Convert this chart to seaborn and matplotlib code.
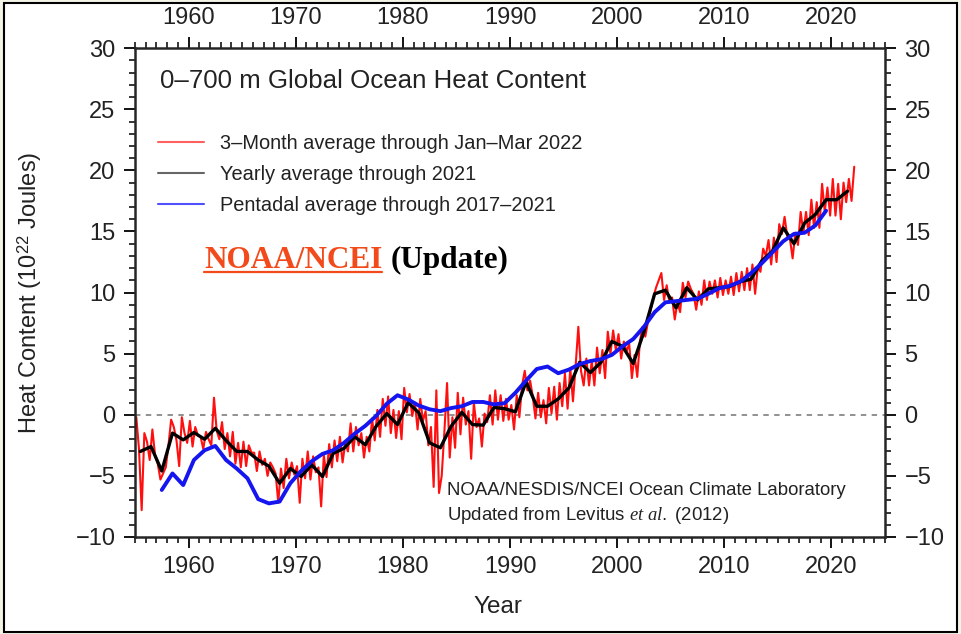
import numpy as np
import pandas as pd
import matplotlib
matplotlib.use('Agg')
import matplotlib.pyplot as plt
import seaborn as sns
from matplotlib.ticker import MultipleLocator
from matplotlib.patches import Rectangle
from matplotlib.lines import Line2D

# Valores (10^22 J)
anos = list(range(1955, 2022))
media_anual = [
    -3.0, -2.6, -4.6, -1.5, -2.05, -1.45, -2.0, -1.1, -2.1, -3.0,
    -3.0, -3.7, -4.2, -5.6, -4.4, -5.05, -4.1, -5.05, -3.15, -2.75,
    -1.8, -2.45, -0.95, 0.1, -0.8, 1.0, 0.15, -2.3, -2.7, -0.95,
    0.2, -0.8, -0.85, 0.6, 0.5, 0.25, 2.7, 0.7, 0.7, 1.3,
    2.2, 4.3, 3.45, 4.3, 6.0, 5.6, 4.2, 6.8, 9.9, 10.2,
    8.75, 10.4, 9.4, 10.3, 10.4, 10.5, 10.9, 11.1, 12.6, 13.4,
    15.3, 14.0, 15.7, 16.4, 17.6, 17.6, 18.3,
]

anos_pent = list(range(1957, 2020))
media_pentadal = [
    -6.15, -4.8, -5.75, -3.7, -2.9, -2.55, -3.7, -4.4, -5.2, -6.9,
    -7.25, -7.1, -5.6, -4.6, -3.8, -3.2, -2.9, -2.3, -1.55, -0.9,
    -0.1, 0.9, 1.6, 1.25, 0.75, 0.45, 0.3, 0.55, 0.7, 1.05,
    1.05, 0.85, 0.95, 1.8, 2.8, 3.75, 3.95, 3.4, 3.7, 4.15,
    4.4, 4.55, 4.9, 5.6, 6.2, 7.2, 8.4, 9.2, 9.3, 9.4,
    9.5, 9.9, 10.35, 10.55, 10.9, 11.6, 12.4, 13.3, 14.2, 14.8,
    14.9, 15.5, 16.7,
]

# médias trimestrais, jan-mar 1955 até jan-mar 2022
media_3m = [
    -0.2, -2.8, -7.8, -1.5,
    -2.2, -3.7, -1.2, -3.3,
    -4.0, -5.3, -4.8, -4.3,
    -2.5, -0.4, -1.0, -2.1,
    -4.2, -0.2, -1.5, -2.3,
    -0.5, -2.6, -1.0, -1.7,
    -1.8, -2.8, -1.4, -2.0,
    -2.5, 1.4, -1.3, -2.0,
    -0.6, -2.8, -1.5, -3.4,
    -1.4, -4.0, -2.3, -4.3,
    -2.2, -4.2, -2.5, -3.1,
    -3.1, -4.6, -3.0, -4.1,
    -3.6, -5.0, -3.9, -4.3,
    -4.8, -7.2, -4.4, -6.0,
    -3.6, -5.2, -3.9, -4.9,
    -4.2, -7.2, -3.6, -5.2,
    -3.0, -5.3, -3.4, -4.7,
    -4.3, -7.5, -3.3, -5.1,
    -2.4, -4.3, -2.1, -3.8,
    -1.8, -3.9, -2.3, -3.0,
    -0.7, -3.0, -1.0, -2.5,
    -1.5, -3.5, -1.8, -3.0,
    -0.3, -2.1, 0.4, -1.8,
    1.3, -0.9, 1.5, -1.5,
    0.4, -1.9, 0.3, -2.0,
    2.2, 0.2, 1.7, -0.1,
    1.0, -1.2, 1.3, -0.5,
    0.3, -2.5, -1.0, -5.9,
    2.0, -6.4, -5.0, -1.4,
    2.6, -3.5, -0.2, -2.7,
    1.8, -1.6, 1.4, -0.8,
    0.3, -3.6, 1.0, -1.0,
    -0.3, -2.6, 0.1, -0.6,
    1.6, -0.8, 2.0, -0.4,
    1.6, -0.5, 1.3, -0.4,
    0.8, -1.2, 1.6, -0.2,
    2.4, 3.6, 2.0, 2.8,
    1.5, -0.3, 1.8, -0.2,
    1.2, -0.7, 2.2, 0.1,
    2.3, -0.4, 2.6, 0.7,
    3.4, 0.5, 3.8, 1.1,
    4.0, 7.2, 3.6, 2.4,
    4.6, 2.4, 4.4, 2.4,
    5.5, 3.4, 5.3, 3.0,
    6.8, 5.0, 6.9, 5.3,
    6.6, 4.6, 6.0, 5.2,
    5.8, 3.0, 4.9, 3.1,
    6.0, 7.2, 6.4, 7.6,
    8.6, 9.6, 10.4, 11.0,
    11.6, 9.4, 10.6, 9.2,
    9.6, 7.8, 9.2, 8.4,
    10.8, 9.6, 10.9, 10.3,
    9.9, 8.6, 10.1, 9.0,
    11.0, 9.4, 10.9, 9.9,
    11.0, 9.6, 11.2, 9.8,
    11.0, 9.9, 11.3, 9.8,
    11.6, 10.1, 11.7, 10.2,
    12.0, 10.2, 12.3, 9.9,
    12.1, 11.7, 13.6, 13.0,
    14.3, 12.3, 14.5, 12.5,
    15.6, 14.8, 16.2, 14.6,
    14.4, 12.8, 14.9, 13.9,
    16.6, 14.9, 16.6, 14.7,
    17.6, 15.3, 17.4, 15.3,
    18.9, 16.6, 18.6, 16.3,
    19.3, 16.3, 18.9, 16.0,
    19.0, 17.4, 19.3, 17.5,
    20.3,
]

df_anual = pd.DataFrame({'ano': np.array(anos) + 0.5, 'calor': media_anual})
df_pent = pd.DataFrame({'ano': np.array(anos_pent) + 0.5, 'calor': media_pentadal})
df_3m = pd.DataFrame({'ano': 1955.125 + 0.25 * np.arange(len(media_3m)), 'calor': media_3m})

sns.set_style('ticks')
plt.rcParams['font.family'] = ['Liberation Sans', 'DejaVu Sans']
plt.rcParams['mathtext.fontset'] = 'custom'
plt.rcParams['mathtext.rm'] = 'Liberation Sans'
plt.rcParams['mathtext.it'] = 'Liberation Serif:italic'

cor_txt = '#222222'
fig = plt.figure(figsize=(9.62, 6.34), dpi=100)
fig.patch.set_facecolor('#f3f4e6')
fig.add_artist(Rectangle((0.004, 0.003), 0.991, 0.992, transform=fig.transFigure,
                         facecolor='white', edgecolor='black', lw=1.5, zorder=-1))
ax = fig.add_axes([0.1403, 0.153, 0.7797, 0.771])

ax.axhline(0, color='#888888', ls=(0, (3, 3)), lw=1.3, zorder=1)
sns.lineplot(data=df_3m, x='ano', y='calor', color='#ff1010', lw=1.5, ax=ax, zorder=2)
sns.lineplot(data=df_anual, x='ano', y='calor', color='black', lw=2.4, ax=ax, zorder=3)
sns.lineplot(data=df_pent, x='ano', y='calor', color='#1515f0', lw=2.8, ax=ax, zorder=4)

ax.set_xlim(1955, 2025)
ax.set_ylim(-10, 30)
ax.xaxis.set_major_locator(MultipleLocator(10))
ax.xaxis.set_minor_locator(MultipleLocator(1))
ax.yaxis.set_major_locator(MultipleLocator(5))
ax.yaxis.set_minor_locator(MultipleLocator(1))
ax.tick_params(which='both', direction='out', top=True, right=True,
               labeltop=True, labelright=True, colors='black', labelcolor=cor_txt,
               labelsize=17)
ax.tick_params(which='major', length=8, width=1.3, pad=6)
ax.tick_params(which='minor', length=4, width=1.1)
for s in ax.spines.values():
    s.set_linewidth(1.8)
ax.set_xlabel('')
ax.set_ylabel('')

fig.text(0.031, 0.538, r'Heat Content (10$^{22}$ Joules)', rotation=90,
         ha='center', va='center', fontsize=17, color=cor_txt)
fig.text(0.518, 0.043, 'Year', ha='center', va='center', fontsize=17.5, color=cor_txt)

ax.text(0.033, 0.932, '0\u2013700 m Global Ocean Heat Content', transform=ax.transAxes,
        ha='left', va='center', fontsize=18.6, color=cor_txt)

handles = [Line2D([], [], color='#ff6060', lw=1.5),
           Line2D([], [], color='#666666', lw=1.5),
           Line2D([], [], color='#5050ff', lw=1.5)]
labels = ['3\u2013Month average through Jan\u2013Mar 2022',
          'Yearly average through 2021',
          'Pentadal average through 2017\u20132021']
leg = ax.legend(handles, labels, loc='upper left', bbox_to_anchor=(0.02, 0.84),
                frameon=False, fontsize=14.4, handlelength=2.3, handletextpad=0.8,
                labelspacing=0.6, borderaxespad=0)
for t in leg.get_texts():
    t.set_color(cor_txt)

noaa = ax.text(0.092, 0.550, 'NOAA/NCEI', transform=ax.transAxes, ha='left',
               va='baseline', fontsize=22.5, fontweight='bold',
               family=['Liberation Serif'], color='#f24a1a')
ax.annotate('(Update)', xy=(1, 0), xycoords=noaa, xytext=(6, 0),
            textcoords='offset points', ha='left', va='bottom', fontsize=22.5,
            fontweight='bold', family=['Liberation Serif'], color='black')

ax.text(0.416, 0.096, 'NOAA/NESDIS/NCEI Ocean Climate Laboratory', transform=ax.transAxes,
        ha='left', va='center', fontsize=13.4, color=cor_txt)
ax.text(0.416, 0.043, r'Updated from Levitus $\mathit{et\ al.}$ (2012)', transform=ax.transAxes,
        ha='left', va='center', fontsize=13.4, color=cor_txt)

# sublinhado do NOAA/NCEI
fig.canvas.draw()
bb = noaa.get_window_extent().transformed(fig.transFigure.inverted())
y_base = ax.transAxes.transform((0, 0.550))[1] / fig.bbox.height - 4 / 634
fig.add_artist(Line2D([bb.x0, bb.x1], [y_base, y_base], transform=fig.transFigure,
                      color='#f24a1a', lw=1.6))

fig.savefig('out.png', dpi=100, facecolor=fig.get_facecolor())
